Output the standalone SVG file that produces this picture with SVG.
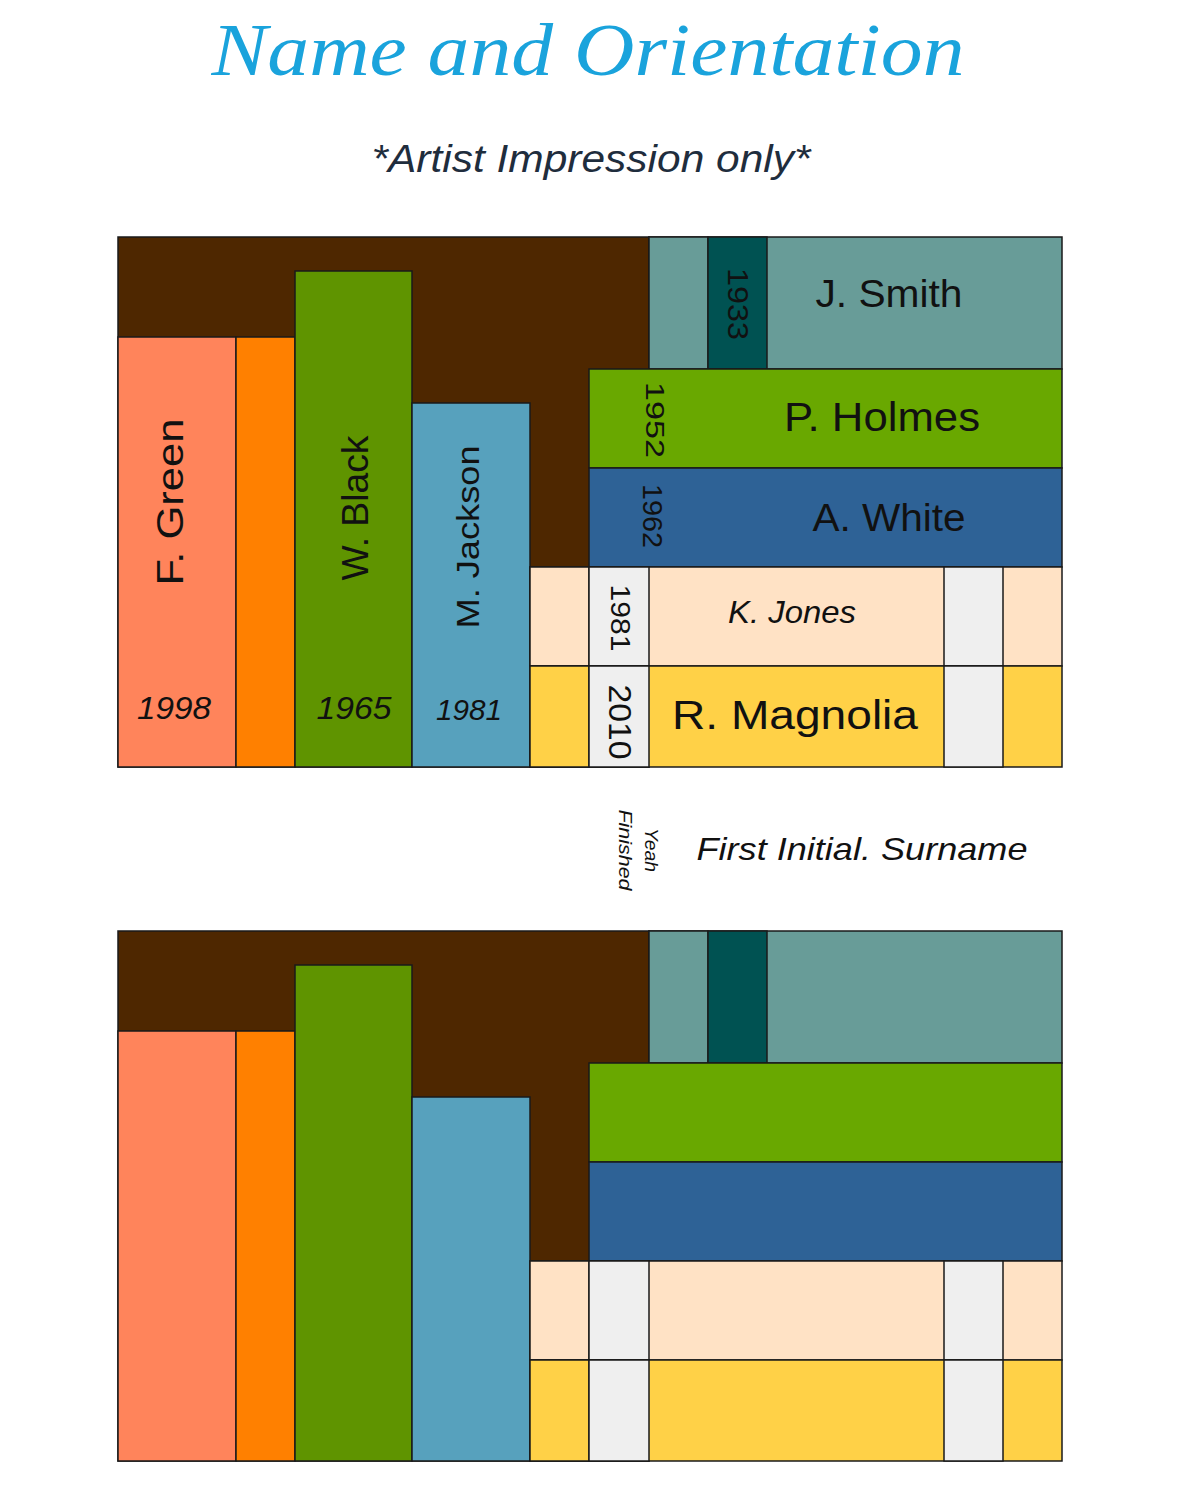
<svg xmlns="http://www.w3.org/2000/svg" width="1200" height="1491" viewBox="0 0 1200 1491">
<style>
.b{stroke:#1a1a1a;stroke-width:1.5}
.brown{fill:#4e2700}.salmon{fill:#ff845b}.orange{fill:#ff8000}.green{fill:#5f9400}.lblue{fill:#57a1bd}
.peach{fill:#ffe2c5}.yellow{fill:#ffd147}.grey{fill:#efefef}.teal{fill:#689c98}.dteal{fill:#005252}
.pgreen{fill:#69a800}.dblue{fill:#2e6296}
.t{font-family:"Liberation Sans","DejaVu Sans",sans-serif;fill:#111;text-anchor:middle;dominant-baseline:central}
.i{font-style:italic}
</style>
<rect width="1200" height="1491" fill="#ffffff"/>
<g id="title">
<text x="588" y="75" font-family="Liberation Serif,serif" font-style="italic" font-size="74" fill="#1aa3dc" text-anchor="middle" textLength="753" lengthAdjust="spacingAndGlyphs">Name and Orientation</text>
</g>
<g id="subtitle">
<text x="591" y="172" font-family="Liberation Sans,sans-serif" font-style="italic" font-size="38" fill="#1f2d3d" text-anchor="middle" textLength="439" lengthAdjust="spacingAndGlyphs">*Artist Impression only*</text>
</g>

<g id="top-shelf">
<rect class="b brown" x="118" y="237" width="531" height="530"/>
<g id="f-green"><rect class="b salmon" x="118" y="337" width="118" height="430"/>
<text class="t" transform="translate(170,502) rotate(-90)" font-size="36" textLength="167" lengthAdjust="spacingAndGlyphs">F. Green</text>
<text class="t i" x="174" y="708" font-size="32" textLength="74" lengthAdjust="spacingAndGlyphs">1998</text></g>
<g id="orange"><rect class="b orange" x="236" y="337" width="59" height="430"/></g>
<g id="w-black"><rect class="b green" x="295" y="271" width="117" height="496"/>
<text class="t" transform="translate(355,508) rotate(-90)" font-size="36" textLength="145" lengthAdjust="spacingAndGlyphs">W. Black</text>
<text class="t i" x="354" y="708" font-size="32" textLength="75" lengthAdjust="spacingAndGlyphs">1965</text></g>
<g id="m-jackson"><rect class="b lblue" x="412" y="403" width="118" height="364"/>
<text class="t" transform="translate(468,537) rotate(-90)" font-size="32" textLength="183" lengthAdjust="spacingAndGlyphs">M. Jackson</text>
<text class="t i" x="469" y="709" font-size="30" textLength="66" lengthAdjust="spacingAndGlyphs">1981</text></g>
<g id="j-smith"><rect class="b teal" x="649" y="237" width="413" height="132"/>
<rect class="b teal" x="649" y="237" width="59" height="132"/>
<rect class="b dteal" x="708" y="237" width="59" height="132"/>
<text class="t" transform="translate(738,304) rotate(90)" font-size="30" textLength="72" lengthAdjust="spacingAndGlyphs">1933</text>
<text class="t" x="889" y="294" font-size="38" textLength="147" lengthAdjust="spacingAndGlyphs">J. Smith</text></g>
<g id="p-holmes"><rect class="b pgreen" x="589" y="369" width="473" height="99"/>
<text class="t" transform="translate(655,420) rotate(90)" font-size="26" textLength="76" lengthAdjust="spacingAndGlyphs">1952</text>
<text class="t" x="882" y="417" font-size="40" textLength="196" lengthAdjust="spacingAndGlyphs">P. Holmes</text></g>
<g id="a-white"><rect class="b dblue" x="589" y="468" width="473" height="99"/>
<text class="t" transform="translate(652,516) rotate(90)" font-size="28" textLength="64" lengthAdjust="spacingAndGlyphs">1962</text>
<text class="t" x="889" y="518" font-size="38" textLength="153" lengthAdjust="spacingAndGlyphs">A. White</text></g>
<g id="k-jones"><rect class="b peach" x="530" y="567" width="532" height="99"/>
<rect class="b peach" x="530" y="567" width="59" height="99"/>
<rect class="b grey" x="589" y="567" width="60" height="99"/>
<rect class="b grey" x="944" y="567" width="59" height="99"/>
<text class="t" transform="translate(620,618) rotate(90)" font-size="28" textLength="67" lengthAdjust="spacingAndGlyphs">1981</text>
<text class="t i" x="792" y="612" font-size="32" textLength="128" lengthAdjust="spacingAndGlyphs">K. Jones</text></g>
<g id="r-magnolia"><rect class="b yellow" x="530" y="666" width="532" height="101"/>
<rect class="b yellow" x="530" y="666" width="59" height="101"/>
<rect class="b grey" x="589" y="666" width="60" height="101"/>
<rect class="b grey" x="944" y="666" width="59" height="101"/>
<text class="t" transform="translate(620,722) rotate(90)" font-size="32" textLength="75" lengthAdjust="spacingAndGlyphs">2010</text>
<text class="t" x="795" y="715" font-size="40" textLength="246" lengthAdjust="spacingAndGlyphs">R. Magnolia</text></g>
</g>

<g id="legend">
<text class="t i" transform="translate(651,850) rotate(90)" font-size="18" textLength="44" lengthAdjust="spacingAndGlyphs">Yeah</text>
<text class="t i" transform="translate(625,850) rotate(90)" font-size="18" textLength="81" lengthAdjust="spacingAndGlyphs">Finished</text>
<text class="t i" x="862" y="849" font-size="32" textLength="331" lengthAdjust="spacingAndGlyphs">First Initial. Surname</text>
</g>

<g id="bottom-shelf" transform="translate(0,694)">
<rect class="b brown" x="118" y="237" width="531" height="530"/>
<g id="f-green-2"><rect class="b salmon" x="118" y="337" width="118" height="430"/></g>
<g id="orange-2"><rect class="b orange" x="236" y="337" width="59" height="430"/></g>
<g id="w-black-2"><rect class="b green" x="295" y="271" width="117" height="496"/></g>
<g id="m-jackson-2"><rect class="b lblue" x="412" y="403" width="118" height="364"/></g>
<g id="j-smith-2"><rect class="b teal" x="649" y="237" width="413" height="132"/>
<rect class="b teal" x="649" y="237" width="59" height="132"/>
<rect class="b dteal" x="708" y="237" width="59" height="132"/></g>
<g id="p-holmes-2"><rect class="b pgreen" x="589" y="369" width="473" height="99"/></g>
<g id="a-white-2"><rect class="b dblue" x="589" y="468" width="473" height="99"/></g>
<g id="k-jones-2"><rect class="b peach" x="530" y="567" width="532" height="99"/>
<rect class="b peach" x="530" y="567" width="59" height="99"/>
<rect class="b grey" x="589" y="567" width="60" height="99"/>
<rect class="b grey" x="944" y="567" width="59" height="99"/></g>
<g id="r-magnolia-2"><rect class="b yellow" x="530" y="666" width="532" height="101"/>
<rect class="b yellow" x="530" y="666" width="59" height="101"/>
<rect class="b grey" x="589" y="666" width="60" height="101"/>
<rect class="b grey" x="944" y="666" width="59" height="101"/></g>
</g>
</svg>
